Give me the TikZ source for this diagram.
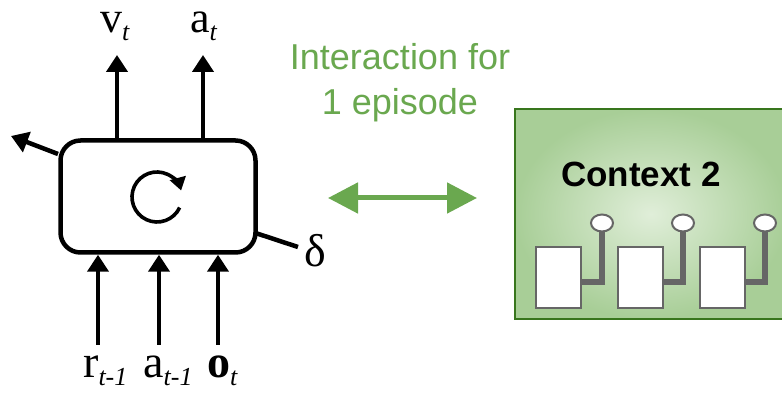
\documentclass[tikz,border=0pt]{standalone}
\usepackage{fontspec}
\setmainfont{Liberation Serif}
\newfontfamily\sansfont{Liberation Sans}
\usetikzlibrary{arrows.meta,shapes.geometric}

\definecolor{episodegreen}{RGB}{106,168,79}
\definecolor{ctxedge}{RGB}{56,118,29}
\definecolor{ctxlight}{RGB}{224,238,217}
\definecolor{ctxdark}{RGB}{168,206,151}
\definecolor{wire}{RGB}{102,102,102}

% small italic subscript, set below the baseline
\newcommand{\lowsub}[1]{\raisebox{-8pt}{\fontsize{26}{26}\selectfont\mdseries\itshape #1}}

\begin{document}
\begin{tikzpicture}[x=1pt,y=1pt,
	every node/.style={inner sep=0pt},
	cell/.style={draw,line width=4.5pt,rounded corners=20pt,
		minimum width=195pt,minimum height=112pt},
	flow/.style={line width=4.5pt,-{Triangle[length=17pt,width=21pt]}},
	sym/.style={font=\fontsize{44}{44}\selectfont,anchor=base west},
	unit/.style={draw=wire,fill=white,line width=1.2pt,
		minimum width=45pt,minimum height=61pt},
	knob/.style={ellipse,draw=wire,fill=white,line width=2pt,
		minimum width=22pt,minimum height=17pt},
	link/.style={draw=wire,line width=6pt}]
	\useasboundingbox (0,0) rectangle (782,395);

	% the recurrent cell
	\node[cell] (cell) at (158,198.5) {};
	\draw[line width=3.6pt,-{Triangle[length=13pt,width=16pt]}]
		([shift={(-25:25)}]157,198) arc[start angle=-25,end angle=-345,radius=25];

	% outputs
	\node[sym] (v) at (100,362) {v\lowsub{t}};
	\node[sym] (a) at (190,362) {a\lowsub{t}};
	\coordinate (vtip) at (117,340);
	\coordinate (atip) at (203,340);
	\draw[flow] (cell.north -| vtip) -- (vtip);
	\draw[flow] (cell.north -| atip) -- (atip);
	\coordinate (htip) at (11,259);
	\draw[flow] (58,241) -- (htip);

	\node[font=\fontsize{46}{46}\selectfont] (delta) at (315,144) {δ};
	\draw[line width=4.5pt] (255.5,162) -- ([xshift=-6pt,yshift=4pt]delta.west);

	% inputs
	\node[sym,font=\fontsize{46}{46}\selectfont] (r) at (83,17) {r\lowsub{t-1}};
	\node[sym,font=\fontsize{46}{46}\selectfont] (aprev) at (143,17) {a\lowsub{t-1}};
	\node[sym,font=\fontsize{46}{46}\bfseries] (o) at (207,17) {o\lowsub{t}};
	\coordinate (rin) at (98,50);
	\coordinate (ain) at (159,50);
	\coordinate (oin) at (218,50);
	\draw[flow] (rin) -- (rin |- cell.south);
	\draw[flow] (ain) -- (ain |- cell.south);
	\draw[flow] (oin) -- (oin |- cell.south);

	% interaction with the environment
	\node[text=episodegreen,font=\sansfont\fontsize{36}{45}\selectfont,
		align=center,anchor=base] (episode) at (400,280)
		{Interaction for\\1 episode};
	\coordinate (linkL) at (328,197);
	\coordinate (linkR) at (477,197);
	\draw[episodegreen,line width=5pt,
		{Triangle[length=30pt,width=30pt]}-{Triangle[length=30pt,width=30pt]}]
		(linkL) -- (linkR);

	% context 2
	\node[draw=ctxedge,line width=2pt,inner color=ctxlight,outer color=ctxdark,
		minimum width=272pt,minimum height=210pt] (ctx) at (651,181) {};
	\node[font=\sansfont\bfseries\fontsize{35}{35}\selectfont,anchor=base]
		(ctxlabel) at (641,208) {Context 2};
	\foreach \i/\ux/\kx in {1/558.5/602,2/640.5/683,3/722.5/765} {
		\node[unit] (u\i) at (\ux,117.5) {};
		\node[knob] (k\i) at (\kx,172) {};
		\draw[link] ([yshift=-4.5pt]u\i.east) -| (k\i.south);
	}
\end{tikzpicture}
\end{document}
